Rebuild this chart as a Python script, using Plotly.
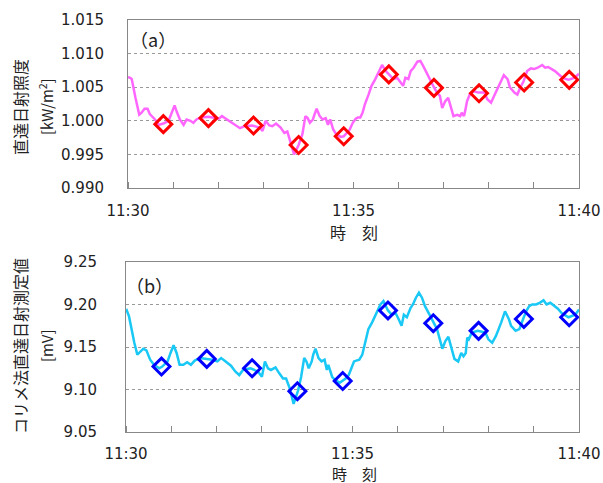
import plotly.graph_objects as go

# seconds after 11:30:00
a_sec = [0, 3, 5, 7, 10, 15, 18, 22, 26, 29, 36, 41, 47, 54, 58, 62, 65, 69, 74, 78, 83, 87, 91, 97,
         107, 114, 121, 125, 132, 138, 145, 149, 155, 165, 175, 179, 183, 188, 192, 197, 203, 208,
         212, 217, 221, 227, 232, 236, 239, 242, 246, 248, 251, 255, 259, 263, 266, 269, 273, 277,
         283, 287, 291, 295, 299, 303, 306, 309, 312, 315, 320, 324, 329, 333, 338, 343, 347, 353,
         358, 362, 366, 369, 373, 376, 380, 385, 389, 393, 398, 403, 407, 411, 415, 418, 422, 426,
         429, 433, 438, 442, 444, 447, 449, 451, 455, 460, 466, 474, 478, 483, 487, 494, 500, 505,
         508, 514, 518, 522, 526, 531, 536, 540, 545, 551, 555, 559, 564, 568, 575, 580, 586, 594, 600]
a_val = [1.0065, 1.0064, 1.0062, 1.0049, 1.0034, 1.0009, 1.0012, 1.0018, 1.0018, 1.0010, 1.0002,
         0.9994, 0.9996, 1.0000, 1.0012, 1.0023, 1.0013, 1.0002, 0.9994, 1.0002, 1.0000, 0.9997,
         1.0002, 1.0005, 1.0006, 1.0004, 1.0003, 1.0007, 1.0002, 0.9997, 0.9992, 0.9989, 0.9992,
         0.9993, 0.9990, 0.9985, 1.0000, 0.9993, 0.9992, 0.9996, 0.9990, 0.9982, 0.9984, 0.9967,
         0.9950, 0.9964, 0.9980, 1.0007, 1.0004, 0.9997, 1.0002, 1.0009, 1.0018, 1.0007, 1.0002,
         1.0004, 0.9994, 1.0002, 0.9987, 0.9980, 0.9976, 0.9977, 0.9982, 0.9987, 0.9997, 1.0003,
         1.0005, 1.0005, 1.0012, 1.0024, 1.0039, 1.0052, 1.0062, 1.0072, 1.0083, 1.0074, 1.0069,
         1.0062, 1.0064, 1.0057, 1.0052, 1.0064, 1.0062, 1.0074, 1.0079, 1.0088, 1.0089, 1.0081,
         1.0069, 1.0058, 1.0050, 1.0042, 1.0037, 1.0019, 1.0029, 1.0034, 1.0022, 1.0007, 1.0009,
         1.0007, 1.0012, 1.0007, 1.0017, 1.0029, 1.0040, 1.0044, 1.0042, 1.0042, 1.0032, 1.0027,
         1.0037, 1.0054, 1.0068, 1.0062, 1.0050, 1.0042, 1.0039, 1.0050, 1.0058, 1.0074, 1.0078,
         1.0077, 1.0079, 1.0083, 1.0079, 1.0080, 1.0077, 1.0074, 1.0067, 1.0063, 1.0061, 1.0064,
         1.0070]

b_sec = [0, 1, 4, 7, 11, 15, 19, 23, 27, 32, 37, 44, 48, 55, 59, 63, 67, 71, 76, 81, 86, 91, 98,
         107, 114, 121, 126, 132, 139, 145, 150, 155, 165, 175, 180, 184, 188, 192, 198, 203, 208,
         212, 217, 222, 228, 232, 236, 239, 242, 246, 248, 251, 255, 259, 263, 266, 268, 273, 277,
         283, 287, 291, 295, 299, 302, 305, 309, 313, 317, 321, 326, 331, 337, 341, 347, 352, 357,
         361, 365, 368, 372, 377, 380, 384, 388, 392, 396, 402, 407, 412, 415, 419, 423, 427, 431,
         435, 440, 444, 447, 450, 452, 454, 458, 466, 476, 480, 485, 490, 497, 502, 507, 510, 516,
         521, 526, 530, 534, 538, 543, 548, 553, 557, 562, 566, 572, 577, 586, 595, 600]
b_val = [9.192, 9.193, 9.186, 9.171, 9.155, 9.141, 9.144, 9.148, 9.146, 9.135, 9.129, 9.125, 9.127,
         9.133, 9.143, 9.152, 9.143, 9.129, 9.129, 9.132, 9.129, 9.134, 9.137, 9.136, 9.135, 9.133,
         9.137, 9.133, 9.128, 9.121, 9.117, 9.123, 9.125, 9.121, 9.115, 9.133, 9.125, 9.123, 9.126,
         9.119, 9.113, 9.113, 9.101, 9.083, 9.099, 9.115, 9.137, 9.133, 9.125, 9.133, 9.141, 9.148,
         9.137, 9.133, 9.135, 9.123, 9.129, 9.115, 9.111, 9.108, 9.110, 9.113, 9.117, 9.127, 9.133,
         9.134, 9.135, 9.141, 9.157, 9.171, 9.179, 9.188, 9.200, 9.204, 9.193, 9.188, 9.190, 9.183,
         9.175, 9.188, 9.185, 9.196, 9.200, 9.208, 9.214, 9.208, 9.198, 9.188, 9.179, 9.171, 9.161,
         9.148, 9.157, 9.162, 9.149, 9.136, 9.133, 9.143, 9.139, 9.143, 9.161, 9.159, 9.167, 9.169,
         9.167, 9.159, 9.155, 9.163, 9.179, 9.192, 9.183, 9.175, 9.169, 9.171, 9.183, 9.192, 9.198,
         9.200, 9.200, 9.202, 9.205, 9.200, 9.202, 9.199, 9.195, 9.190, 9.185, 9.188, 9.194]

mk_sec = [47, 107, 167, 227, 287, 347, 407, 467, 527, 587]
mk_a = [0.9995, 1.0004, 0.9993, 0.9964, 0.9977, 1.0069, 1.0049, 1.0041, 1.0057, 1.0061]
mk_b = [9.127, 9.136, 9.125, 9.098, 9.110, 9.193, 9.178, 9.169, 9.183, 9.185]

tick_secs = [0, 300, 600]
tick_labels = ["11:30", "11:35", "11:40"]
ya_ticks = [0.990, 0.995, 1.000, 1.005, 1.010, 1.015]
yb_ticks = [9.05, 9.10, 9.15, 9.20, 9.25]

W, H = 603, 483
FONT = "Noto Sans CJK JP"
NUMFONT = "DejaVu Sans"
TXT = "#222222"


def px(x):
    return x / W


def py(y):
    return 1 - y / H


fig = go.Figure()
fig.add_trace(go.Scatter(x=a_sec, y=a_val, mode="lines", line=dict(color="#FF66FF", width=2.5),
                         xaxis="x", yaxis="y", showlegend=False))
fig.add_trace(go.Scatter(x=mk_sec, y=mk_a, mode="markers",
                         marker=dict(symbol="diamond-open", size=13, color="#FF0000",
                                     line=dict(width=3, color="#FF0000")),
                         xaxis="x", yaxis="y", showlegend=False))
fig.add_trace(go.Scatter(x=b_sec, y=b_val, mode="lines", line=dict(color="#19C8F5", width=2.5),
                         xaxis="x2", yaxis="y2", showlegend=False))
fig.add_trace(go.Scatter(x=mk_sec, y=mk_b, mode="markers",
                         marker=dict(symbol="diamond-open", size=13, color="#0000FF",
                                     line=dict(width=3, color="#0000FF")),
                         xaxis="x2", yaxis="y2", showlegend=False))

xcommon = dict(range=[0, 600], tickvals=tick_secs, ticktext=tick_labels, ticks="",
               minor=dict(ticks="inside", ticklen=6, tickcolor="#888888", dtick=60, tick0=0,
                          showgrid=False),
               showgrid=False, zeroline=False, showline=True, automargin=False,
               linecolor="#888888", linewidth=1, mirror=True,
               tickfont=dict(family=NUMFONT, size=15, color=TXT))
ycommon = dict(showgrid=True, gridcolor="#999999", griddash="dot", gridwidth=1, zeroline=False,
               showline=True, linecolor="#888888", linewidth=1, mirror=True, ticks="",
               automargin=False, tickfont=dict(family=NUMFONT, size=15, color=TXT))

fig.update_layout(
    width=W, height=H, margin=dict(l=0, r=0, t=0, b=0),
    paper_bgcolor="white", plot_bgcolor="white",
    xaxis=dict(domain=[px(128), px(579)], anchor="y", ticklabelstandoff=9, **xcommon),
    yaxis=dict(domain=[py(188), py(20)], anchor="x", range=[0.990, 1.015], tickvals=ya_ticks,
               tickformat=".3f", ticklabelstandoff=20, **ycommon),
    xaxis2=dict(domain=[px(126), px(579)], anchor="y2", ticklabelstandoff=8, **xcommon),
    yaxis2=dict(domain=[py(432), py(262)], anchor="x2", range=[9.05, 9.25], tickvals=yb_ticks,
                tickformat=".2f", ticklabelstandoff=25, **ycommon),
)

ann = [
    ("（a）", 128, 39, 0, "left", 18),
    ("（b）", 124, 285, 0, "left", 18),
    ("時　刻", 354, 232, 0, "center", 16),
    ("時　刻", 354, 473, 0, "center", 15),
    ("直達日射照度", 20, 107, -90, "center", 16),
    ("[kW/m<sup>2</sup>]", 46, 107, -90, "center", 15),
    ("コリメ法直達日射測定値", 20, 346, -90, "center", 16),
    ("[mV]", 46, 346, -90, "center", 15),
]
for text, x, y, ang, xa, fs in ann:
    fig.add_annotation(text=text, x=px(x), y=py(y), xref="paper", yref="paper", showarrow=False,
                       textangle=ang, xanchor=xa, yanchor="middle",
                       font=dict(family=FONT, size=fs, color=TXT))

fig.write_html("out.html", config={"displayModeBar": False},
               post_script="document.body.style.margin='0px';document.body.style.overflow='hidden';")
